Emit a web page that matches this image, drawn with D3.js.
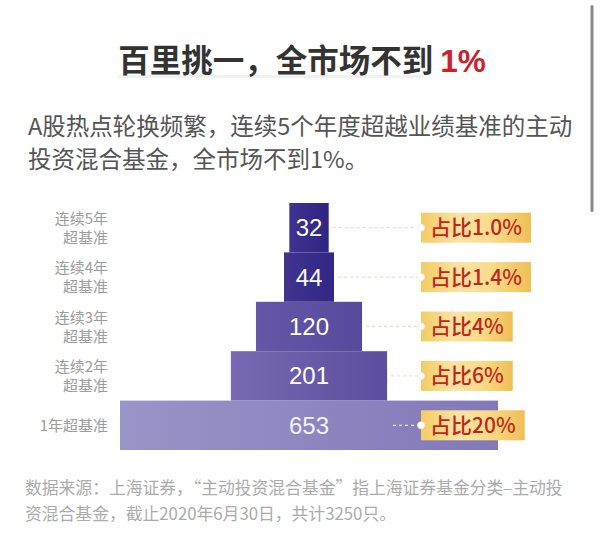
<!DOCTYPE html>
<html><head><meta charset="utf-8">
<script src="https://cdn.jsdelivr.net/npm/d3@7"></script>
<style>
html,body{margin:0;padding:0;background:#fff;}
svg{display:block;}
</style></head>
<body>
<svg id="chart" width="600" height="550"></svg>
<script>
// ---- data ----
const categories = [["连续5年","超基准"],["连续4年","超基准"],["连续3年","超基准"],["连续2年","超基准"],["1年超基准"]];
const counts = [32, 44, 120, 201, 653];
const shares = ["占比1.0%","占比1.4%","占比4%","占比6%","占比20%"];
const titleMain = "百里挑一，全市场不到 ";
const titleHighlight = "1%";
const subtitleLines = ["A股热点轮换频繁，连续5个年度超越业绩基准的主动","投资混合基金，全市场不到1%。"];
const footerLines = ["数据来源：上海证券，“主动投资混合基金”指上海证券基金分类–主动投","资混合基金，截止2020年6月30日，共计3250只。"];

// ---- styles ----
const barColors = [["#3f3393","#2f2480"],["#40348f","#312684"],["#6556a7","#574a9d"],["#7769b2","#5c4d9e"],["#9a94c7","#8378b9"]];
const cjk = "'Noto Sans CJK SC','Noto Sans',sans-serif";
const latin = "'Liberation Sans',Arial,sans-serif";

const svg = d3.select("#chart");
const defs = svg.append("defs");

// scrollbar decoration
svg.append("rect").attr("x",590.5).attr("y",5).attr("width",3).attr("height",207).attr("rx",1.5).attr("fill","#8a8a8a");

// title
svg.append("rect").attr("x",118).attr("y",75).attr("width",305).attr("height",3).attr("fill","#f1f1f1");
const title = svg.append("text").attr("x",302).attr("y",72).attr("text-anchor","middle")
  .attr("font-family",cjk).attr("font-size",31.5).attr("font-weight","bold").attr("fill","#333");
title.append("tspan").text(titleMain);
title.append("tspan").attr("fill","#c8232c").attr("font-family",latin).text(titleHighlight);

// subtitle
svg.selectAll("text.sub").data(subtitleLines).join("text").attr("class","sub")
  .attr("x",28).attr("y",(d,i)=>135+i*33)
  .attr("font-family",cjk).attr("font-size",23.5).attr("fill","#555").text(d=>d);

// scales
const y = d3.scaleBand().domain(d3.range(counts.length)).range([203,450]).padding(0);
const w = d3.scalePow().exponent(0.75).domain([0, d3.max(counts)]).range([0, 378]);
const cx = 309;

// gradients
barColors.forEach((c,i)=>{
  const g = defs.append("linearGradient").attr("id","bg"+i).attr("x1","0").attr("x2","1").attr("y1","0").attr("y2","0");
  g.append("stop").attr("offset","0%").attr("stop-color",c[0]);
  g.append("stop").attr("offset","100%").attr("stop-color",c[1]);
});
const gg = defs.append("linearGradient").attr("id","gold").attr("x1","0").attr("x2","1").attr("y1","0").attr("y2","0");
[["0%","#f2cc64"],["35%","#fbe4a2"],["65%","#f8dc8a"],["100%","#eebf55"]].forEach(s=>gg.append("stop").attr("offset",s[0]).attr("stop-color",s[1]));

const rows = svg.selectAll("g.row").data(counts).join("g").attr("class","row");

rows.append("rect")
  .attr("x",d=>cx - w(d)/2).attr("y",(d,i)=>y(i))
  .attr("width",d=>w(d)).attr("height",y.bandwidth())
  .attr("fill",(d,i)=>`url(#bg${i})`);

rows.append("text")
  .attr("x",cx).attr("y",(d,i)=>y(i)+y.bandwidth()/2+8.5)
  .attr("text-anchor","middle").attr("font-family",latin).attr("font-size",24)
  .attr("fill",(d,i)=> i===4 ? "#f2f0f8" : "#fff").text(d=>d);

// left labels
rows.each(function(d,i){
  const lines = categories[i];
  const cy = y(i)+y.bandwidth()/2;
  const g = d3.select(this);
  lines.forEach((l,k)=>{
    g.append("text").attr("text-anchor","end")
      .attr("font-family",cjk).attr("font-size",15).attr("fill","#9d9d9d")
      .attr("x",108).attr("y", cy + 5.5 + (k - (lines.length-1)/2)*19).text(l);
  });
});

// connectors
const badgeX = 421;
rows.append("line")
  .attr("x1",d=>Math.min(cx + w(d)/2 + 4, cx + 84)).attr("x2",badgeX)
  .attr("y1",(d,i)=>y(i)+y.bandwidth()/2).attr("y2",(d,i)=>y(i)+y.bandwidth()/2)
  .attr("stroke","#e9e2c6").attr("stroke-width",1.3).attr("stroke-dasharray","3,3");

// badges
rows.each(function(d,i){
  const g = d3.select(this);
  const cy = y(i)+y.bandwidth()/2;
  const rect = g.append("rect").attr("x",badgeX).attr("y",cy-15).attr("height",30).attr("fill","url(#gold)");
  const t = g.append("text").attr("y",cy+7.5).attr("text-anchor","middle")
    .attr("font-family",cjk).attr("font-size",21).attr("font-weight",500).attr("fill","#c0261c").text(shares[i]);
  const tw = t.node().getComputedTextLength();
  const bw = tw + 18;
  rect.attr("width",bw);
  t.attr("x",badgeX + bw/2);
  g.append("circle").attr("cx",badgeX).attr("cy",cy).attr("r",3.5).attr("fill","#fff").attr("stroke","#eee").attr("stroke-width",0.8);
});

// footer
svg.selectAll("text.foot").data(footerLines).join("text").attr("class","foot")
  .attr("x",25).attr("y",(d,i)=>494+i*26)
  .attr("font-family",cjk).attr("font-size",16.8).attr("fill","#ababab").text(d=>d);
</script>
</body></html>
